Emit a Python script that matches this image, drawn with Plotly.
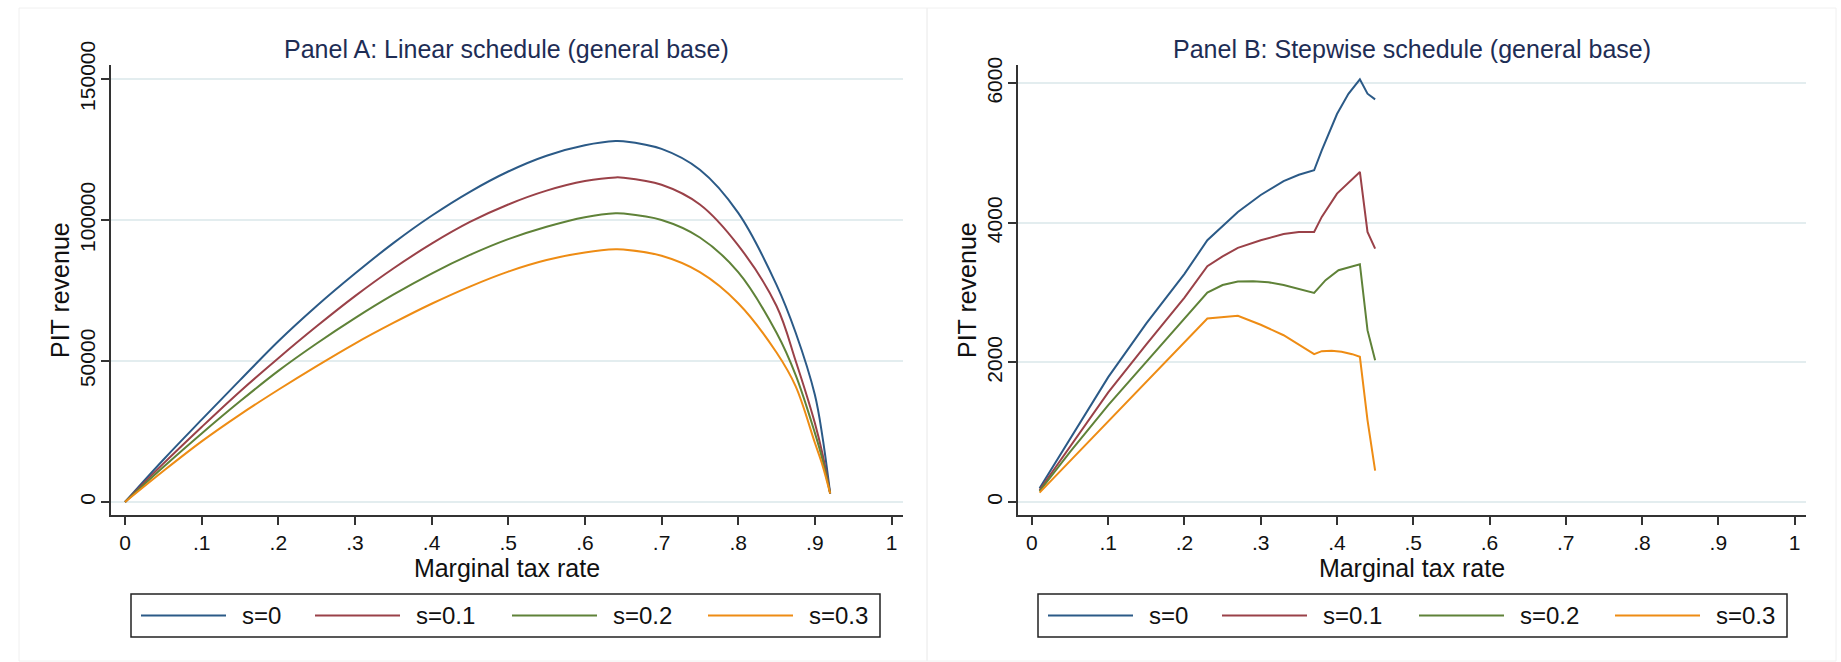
import plotly.graph_objects as go

W, H = 1841, 662

series_names = ["s=0", "s=0.1", "s=0.2", "s=0.3"]
colors = ["#2b5a87", "#9a4148", "#5f8238", "#ee8c14"]

# Panel A: linear schedule
rate_a = [0, 0.05, 0.1, 0.15, 0.2, 0.25, 0.3, 0.35, 0.4, 0.45, 0.5, 0.55, 0.6, 0.64, 0.65, 0.7, 0.75, 0.8, 0.85, 0.875, 0.9, 0.91, 0.92]
rev_a_s0 = [0, 15000, 29200, 43200, 57000, 69500, 81000, 91800, 101500, 110000, 117200, 122800, 126500, 128000, 127900, 125200, 117800, 102500, 77000, 60000, 38000, 23000, 3000]
rev_a_s1 = [0, 13600, 26600, 39200, 51000, 62300, 73000, 82800, 91600, 99300, 105500, 110400, 113800, 115100, 115000, 112500, 105500, 91000, 69500, 50000, 28000, 17000, 3000]
rev_a_s2 = [0, 12400, 24300, 35700, 46500, 56200, 65200, 73500, 81000, 87600, 93200, 97600, 101000, 102400, 102300, 100000, 93800, 81500, 60000, 45000, 24500, 15000, 3000]
rev_a_s3 = [0, 11000, 21500, 31000, 39800, 48200, 56200, 63500, 70300, 76400, 81700, 85800, 88500, 89600, 89500, 87300, 81500, 70500, 53000, 41000, 21000, 13000, 3000]

# Panel B: stepwise schedule
rate_b_s0 = [0.01, 0.05, 0.1, 0.15, 0.2, 0.23, 0.25, 0.27, 0.3, 0.33, 0.35, 0.37, 0.38, 0.39, 0.4, 0.415, 0.43, 0.44, 0.45]
rev_b_s0 = [196, 900, 1790, 2560, 3270, 3752, 3960, 4157, 4400, 4600, 4690, 4754, 5040, 5300, 5560, 5850, 6057, 5852, 5771]
rate_b_s1 = [0.01, 0.05, 0.1, 0.15, 0.2, 0.23, 0.25, 0.27, 0.3, 0.33, 0.35, 0.37, 0.38, 0.4, 0.43, 0.44, 0.45]
rev_b_s1 = [172, 800, 1570, 2260, 2930, 3379, 3520, 3642, 3752, 3840, 3871, 3871, 4086, 4420, 4730, 3871, 3632]
rate_b_s2 = [0.01, 0.05, 0.1, 0.15, 0.2, 0.23, 0.25, 0.27, 0.29, 0.31, 0.33, 0.35, 0.37, 0.385, 0.402, 0.43, 0.44, 0.45]
rev_b_s2 = [157, 720, 1390, 2010, 2620, 3002, 3110, 3160, 3164, 3150, 3110, 3059, 2997, 3179, 3322, 3408, 2463, 2033]
rate_b_s3 = [0.01, 0.1, 0.23, 0.27, 0.3, 0.33, 0.35, 0.37, 0.38, 0.393, 0.406, 0.42, 0.43, 0.44, 0.45]
rev_b_s3 = [134, 1150, 2630, 2668, 2540, 2390, 2258, 2119, 2162, 2167, 2153, 2119, 2081, 1174, 449]

x_tickvals = [0, 0.1, 0.2, 0.3, 0.4, 0.5, 0.6, 0.7, 0.8, 0.9, 1]
x_ticktext = ["0", ".1", ".2", ".3", ".4", ".5", ".6", ".7", ".8", ".9", "1"]
ya_tickvals = [0, 50000, 100000, 150000]
yb_tickvals = [0, 2000, 4000, 6000]

titles = ["Panel A: Linear schedule (general base)", "Panel B: Stepwise schedule (general base)"]
x_title = "Marginal tax rate"
y_title = "PIT revenue"

FONT = "Liberation Sans, Arial, sans-serif"
AX = "#333333"
GRID = "#e3edef"
TXT = "#111111"


def px_x(p):
    return p / W


def px_y(p):
    return 1 - p / H


fig = go.Figure()

panel_a = [(rate_a, rev_a_s0), (rate_a, rev_a_s1), (rate_a, rev_a_s2), (rate_a, rev_a_s3)]
panel_b = [(rate_b_s0, rev_b_s0), (rate_b_s1, rev_b_s1), (rate_b_s2, rev_b_s2), (rate_b_s3, rev_b_s3)]

for i, (xs, ys) in enumerate(panel_a):
    fig.add_trace(go.Scatter(x=xs, y=ys, mode="lines", name=series_names[i],
                             line=dict(color=colors[i], width=2, shape="spline", smoothing=1.0),
                             xaxis="x", yaxis="y", showlegend=False))
for i, (xs, ys) in enumerate(panel_b):
    fig.add_trace(go.Scatter(x=xs, y=ys, mode="lines", name=series_names[i],
                             line=dict(color=colors[i], width=2),
                             xaxis="x2", yaxis="y2", showlegend=False))

# plot areas in pixels
A = dict(l=111, r=903, t=65, b=515)
B = dict(l=1018, r=1806, t=65, b=515)

common_x = dict(range=[-0.0183, 1.015], tickvals=x_tickvals, ticktext=x_ticktext,
                showgrid=False, zeroline=False, showline=True, linecolor=AX, linewidth=1.5,
                ticks="outside", ticklen=8, tickwidth=1.5, tickcolor=AX,
                tickfont=dict(family=FONT, size=21, color=TXT),
                title=dict(text=x_title, font=dict(family=FONT, size=25, color=TXT), standoff=2))
common_y = dict(showgrid=True, gridcolor=GRID, gridwidth=1.5, zeroline=False,
                showline=True, linecolor=AX, linewidth=1.5,
                ticks="outside", ticklen=8, tickwidth=1.5, tickcolor=AX, tickangle=-90,
                tickfont=dict(family=FONT, size=21, color=TXT), tickformat="d",
                ticklabelstandoff=-2)

fig.update_layout(
    xaxis=dict(domain=[px_x(A["l"]), px_x(A["r"])], anchor="y", automargin=False, **common_x),
    yaxis=dict(domain=[px_y(A["b"]), px_y(A["t"])], anchor="x", range=[-4610, 154960],
               automargin=False, tickvals=ya_tickvals, **common_y),
    xaxis2=dict(domain=[px_x(B["l"]), px_x(B["r"])], anchor="y2", automargin=False, **common_x),
    yaxis2=dict(domain=[px_y(B["b"]), px_y(B["t"])], anchor="x2", range=[-186, 6263],
                automargin=False, tickvals=yb_tickvals, **common_y),
)

annotations = []
shapes = []

# faint panel frames
for x0, x1 in [(19, 927), (927, 1836)]:
    shapes.append(dict(type="rect", xref="paper", yref="paper", x0=px_x(x0), x1=px_x(x1),
                       y0=px_y(661), y1=px_y(8), line=dict(color="#f0f0f0", width=1), layer="below"))

for k, P in enumerate([A, B]):
    annotations.append(dict(text=titles[k], x=px_x((P["l"] + P["r"]) / 2), y=px_y(49),
                            xref="paper", yref="paper", showarrow=False,
                            xanchor="center", yanchor="middle",
                            font=dict(family=FONT, size=25, color="#1e2d55")))
    # y-axis title
    annotations.append(dict(text=y_title, x=px_x(P["l"] - 51), y=px_y((P["t"] + P["b"]) / 2),
                            xref="paper", yref="paper", showarrow=False, textangle=-90,
                            xanchor="center", yanchor="middle",
                            font=dict(family=FONT, size=25, color=TXT)))
    # legend box (manual)
    bx0 = P["l"] + 20
    bx1 = bx0 + 749
    by0, by1 = 594, 637
    yc = (by0 + by1) / 2
    shapes.append(dict(type="rect", xref="paper", yref="paper", x0=px_x(bx0), x1=px_x(bx1),
                       y0=px_y(by1), y1=px_y(by0), line=dict(color="#222", width=1.5),
                       fillcolor="white"))
    offsets = [10, 184, 381, 577]
    for i, name in enumerate(series_names):
        lx0 = bx0 + offsets[i]
        shapes.append(dict(type="line", xref="paper", yref="paper", x0=px_x(lx0), x1=px_x(lx0 + 85),
                           y0=px_y(yc), y1=px_y(yc), line=dict(color=colors[i], width=2)))
        annotations.append(dict(text=name, x=px_x(lx0 + 99), y=px_y(yc), xref="paper", yref="paper",
                                showarrow=False, xanchor="left", yanchor="middle",
                                font=dict(family=FONT, size=24, color=TXT)))

fig.update_layout(
    width=W, height=H, autosize=False,
    margin=dict(l=0, r=0, t=0, b=0),
    paper_bgcolor="white", plot_bgcolor="white",
    showlegend=False,
    annotations=annotations, shapes=shapes,
    font=dict(family=FONT),
)

fig.write_html("out.html", config={"displayModeBar": False},
               post_script="document.body.style.margin='0px';document.body.style.overflow='hidden';")
